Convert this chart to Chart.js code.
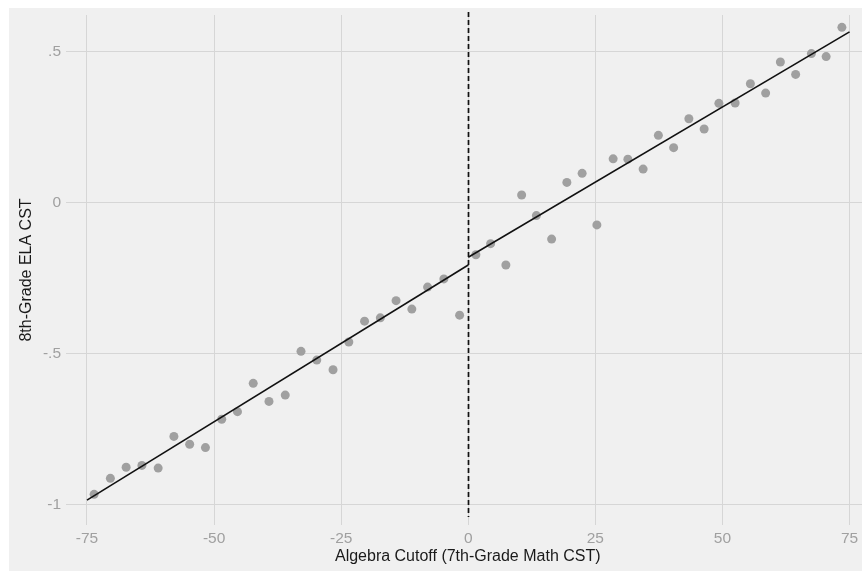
<!DOCTYPE html>
<html>
<head>
<meta charset="utf-8">
<script src="https://cdn.jsdelivr.net/npm/chart.js@4/dist/chart.umd.min.js"></script>
<style>
  html, body { margin: 0; padding: 0; background: #ffffff; overflow: hidden; }
  #wrap { width: 862px; height: 571px; overflow: hidden; }
  #c { display: block; }
</style>
</head>
<body>
<div id="wrap"><canvas id="c" width="874" height="571"></canvas></div>
<script>
// Binned means: 7th-grade math CST distance from the algebra cutoff vs. 8th-grade ELA CST
const binX = [
  -73.6, -70.4, -67.3, -64.2, -61.0, -57.9, -54.8, -51.7, -48.5, -45.4,
  -42.3, -39.2, -36.0, -32.9, -29.8, -26.6, -23.5, -20.4, -17.3, -14.2,
  -11.1, -8.0, -4.8, -1.7,
  1.5, 4.4, 7.4, 10.5, 13.4, 16.4, 19.4, 22.4, 25.3, 28.5,
  31.4, 34.4, 37.4, 40.4, 43.4, 46.4, 49.3, 52.5, 55.5, 58.5,
  61.4, 64.4, 67.5, 70.4, 73.5
];
const binY = [
  -0.967, -0.914, -0.877, -0.871, -0.880, -0.775, -0.801, -0.812, -0.718, -0.693,
  -0.599, -0.659, -0.638, -0.493, -0.522, -0.554, -0.462, -0.393, -0.382, -0.325,
  -0.353, -0.280, -0.253, -0.373,
  -0.173, -0.136, -0.207, 0.025, -0.043, -0.121, 0.067, 0.097, -0.074, 0.145,
  0.144, 0.111, 0.223, 0.182, 0.278, 0.244, 0.329, 0.330, 0.394, 0.363,
  0.466, 0.425, 0.494, 0.484, 0.581
];

// Linear fits on each side of the cutoff
const cutoff = 0;
const fitLeftX = [-75, 0];
const fitLeftY = [-0.986, -0.207];
const fitRightX = [0, 75];
const fitRightY = [-0.181, 0.566];

// Axis ticks
const xTicks = [-75, -50, -25, 0, 25, 50, 75];
const yTicks = [-1, -0.5, 0, 0.5];

const toPts = (xs, ys) => xs.map((x, i) => ({ x: x, y: ys[i] }));
const fmtY = v => v === 0 ? '0' : String(v).replace('0.', '.');

const panelBg = {
  id: 'panelBg',
  beforeDraw(chart) {
    const ctx = chart.ctx;
    ctx.save();
    ctx.fillStyle = '#ffffff';
    ctx.fillRect(0, 0, chart.width, chart.height);
    ctx.fillStyle = '#f0f0f0';
    ctx.fillRect(9, 8, chart.width - 9, chart.height - 8);
    ctx.restore();
  }
};

const cutoffLine = {
  id: 'cutoffLine',
  afterDatasetsDraw(chart) {
    const { ctx, chartArea, scales } = chart;
    const px = Math.round(scales.x.getPixelForValue(cutoff)) + 0.5;
    ctx.save();
    ctx.strokeStyle = '#111111';
    ctx.lineWidth = 1.7;
    ctx.setLineDash([5, 3]);
    ctx.beginPath();
    ctx.moveTo(px, chartArea.top - 3);
    ctx.lineTo(px, chartArea.bottom - 8);
    ctx.stroke();
    ctx.restore();
  }
};

const tickFont = { family: '"Liberation Sans", Arial, sans-serif', size: 15.5 };
const titleFont = { family: '"Liberation Sans", Arial, sans-serif', size: 16 };

new Chart(document.getElementById('c'), {
  type: 'scatter',
  data: {
    datasets: [
      {
        type: 'line',
        data: toPts(fitLeftX, fitLeftY),
        borderColor: '#111111',
        borderWidth: 1.6,
        pointRadius: 0,
        fill: false
      },
      {
        type: 'line',
        data: toPts(fitRightX, fitRightY),
        borderColor: '#111111',
        borderWidth: 1.6,
        pointRadius: 0,
        fill: false
      },
      {
        data: toPts(binX, binY),
        backgroundColor: '#a0a0a0',
        borderWidth: 0,
        pointRadius: 4.5,
        pointHoverRadius: 4.5
      }
    ]
  },
  options: {
    responsive: false,
    animation: false,
    events: [],
    layout: { padding: { left: 0, top: 15, right: 0, bottom: 0 } },
    plugins: { legend: { display: false }, tooltip: { enabled: false } },
    scales: {
      x: {
        type: 'linear',
        min: -79.13,
        max: 78.93,
        border: { display: false },
        grid: { color: '#d6d6d6', lineWidth: 1, drawTicks: false },
        ticks: { color: '#a0a0a0', font: tickFont, padding: 4, maxRotation: 0 },
        afterBuildTicks(s) { s.ticks = xTicks.map(v => ({ value: v })); },
        afterFit(s) { s.height = 46; },
        title: {
          display: true,
          text: 'Algebra Cutoff (7th-Grade Math CST)',
          color: '#1a1a1a',
          font: titleFont,
          padding: { top: 0, bottom: 5 }
        }
      },
      y: {
        type: 'linear',
        min: -1.0686,
        max: 0.6218,
        border: { display: false },
        grid: { color: '#d6d6d6', lineWidth: 1, drawTicks: false },
        ticks: { color: '#a0a0a0', font: tickFont, padding: 5, callback: v => fmtY(v) },
        afterBuildTicks(s) { s.ticks = yTicks.map(v => ({ value: v })); },
        afterFit(s) { s.width = 66; },
        title: {
          display: true,
          text: '8th-Grade ELA CST',
          color: '#1a1a1a',
          font: titleFont,
          padding: { top: 17, bottom: 0 }
        }
      }
    }
  },
  plugins: [panelBg, cutoffLine]
});
</script>
</body>
</html>
